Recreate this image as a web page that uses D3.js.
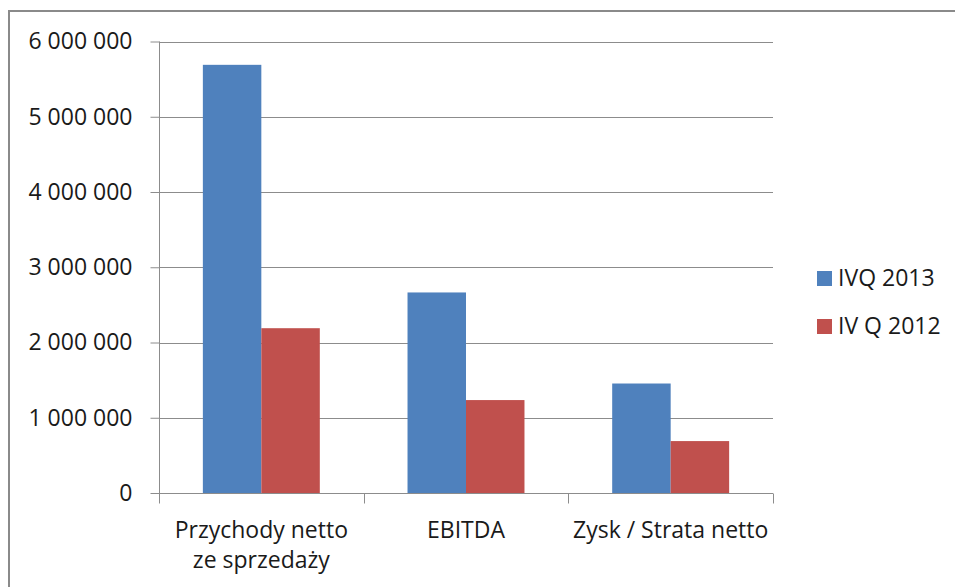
<!DOCTYPE html>
<html>
<head>
<meta charset="utf-8">
<script src="https://cdn.jsdelivr.net/npm/d3@7"></script>
<style>
  html, body { margin: 0; padding: 0; background: #fff; }
  svg { display: block; }
  text { font-family: "Open Sans", "Liberation Sans", sans-serif; fill: #1a1a1a; }
</style>
</head>
<body>
<svg id="chart" width="955" height="587"></svg>
<script>
const categories = [["Przychody netto", "ze sprzedaży"], ["EBITDA"], ["Zysk / Strata netto"]];
const seriesNames = ["IVQ 2013", "IV Q 2012"];
const seriesIVQ2013 = [5690000, 2665000, 1455000];
const seriesIVQ2012 = [2190000, 1235000, 690000];
const yTicks = [0, 1000000, 2000000, 3000000, 4000000, 5000000, 6000000];
const colors = ["#4F81BD", "#C0504D"];

const svg = d3.select("#chart");
const W = 955, H = 587;
const plot = { left: 159, right: 773, top: 41.5, bottom: 493 };
const FS = 23;

// outer frame (partially visible)
svg.append("path")
  .attr("d", `M9,${H} L9,11 L${W},11`)
  .attr("fill", "none").attr("stroke", "#8a8a8a").attr("stroke-width", 2);

const locale = d3.formatLocale({ decimal: ",", thousands: " ", grouping: [3], currency: ["", ""] });
const fmt = locale.format(",");

const catKeys = categories.map(c => c.join(" "));
const x = d3.scaleBand().domain(catKeys).range([plot.left, plot.right]).paddingInner(0).paddingOuter(0);
const xs = d3.scaleBand().domain(seriesNames).range([0, x.bandwidth()]).paddingInner(0).paddingOuter(0.75);
const y = d3.scaleLinear().domain([0, 6000000]).range([plot.bottom, plot.top]);

// gridlines
svg.append("g").selectAll("line").data(yTicks.filter(t => t > 0)).join("line")
  .attr("x1", plot.left).attr("x2", plot.right)
  .attr("y1", d => Math.round(y(d)) + 0.5).attr("y2", d => Math.round(y(d)) + 0.5)
  .attr("stroke", "#8c8c8c").attr("stroke-width", 1);

// bars
const data = catKeys.map((k, i) => ({ key: k, vals: [seriesIVQ2013[i], seriesIVQ2012[i]] }));
const groups = svg.append("g").selectAll("g").data(data).join("g")
  .attr("transform", d => `translate(${x(d.key)},0)`);
groups.selectAll("rect").data(d => d.vals.map((v, j) => ({ v, s: seriesNames[j], j }))).join("rect")
  .attr("x", d => xs(d.s)).attr("width", xs.bandwidth())
  .attr("y", d => y(d.v)).attr("height", d => y(0) - y(d.v))
  .attr("fill", d => colors[d.j]);

// y axis
const yAxis = d3.axisLeft(y).tickValues(yTicks).tickFormat(fmt).tickSize(9).tickPadding(18);
const gy = svg.append("g").attr("transform", `translate(${plot.left + 0.5},0)`).call(yAxis);
gy.select(".domain").attr("stroke", "#8c8c8c").attr("d", `M0,${plot.top}V${plot.bottom}`);
gy.selectAll(".tick line").attr("stroke", "#8c8c8c");
gy.selectAll(".tick text").attr("font-size", FS).attr("fill", "#1a1a1a")
  .attr("font-family", "'Open Sans', sans-serif");

// x axis
const gx = svg.append("g").attr("transform", `translate(0,${Math.round(plot.bottom) + 0.5})`);
gx.append("line").attr("x1", plot.left).attr("x2", plot.right).attr("stroke", "#8c8c8c");
const bounds = catKeys.map(k => x(k)).concat([plot.right]);
gx.selectAll("line.tk").data(bounds).join("line").attr("class", "tk")
  .attr("x1", d => Math.round(d) + 0.5).attr("x2", d => Math.round(d) + 0.5)
  .attr("y1", 0).attr("y2", 10).attr("stroke", "#8c8c8c");
const labels = svg.append("g").selectAll("text").data(categories).join("text")
  .attr("text-anchor", "middle").attr("font-size", FS)
  .attr("x", (d, i) => x(catKeys[i]) + x.bandwidth() / 2)
  .attr("y", 538);
labels.selectAll("tspan").data(d => d).join("tspan")
  .attr("x", function () { return d3.select(this.parentNode).attr("x"); })
  .attr("dy", (d, i) => i === 0 ? 0 : 30)
  .text(d => d);

// legend
const legend = svg.append("g").selectAll("g").data(seriesNames).join("g")
  .attr("transform", (d, i) => `translate(817,${271 + i * 48})`);
legend.append("rect").attr("width", 15).attr("height", 15).attr("fill", (d, i) => colors[i]);
legend.append("text").attr("x", 21).attr("y", 15).attr("font-size", FS).text(d => d);
</script>
</body>
</html>
